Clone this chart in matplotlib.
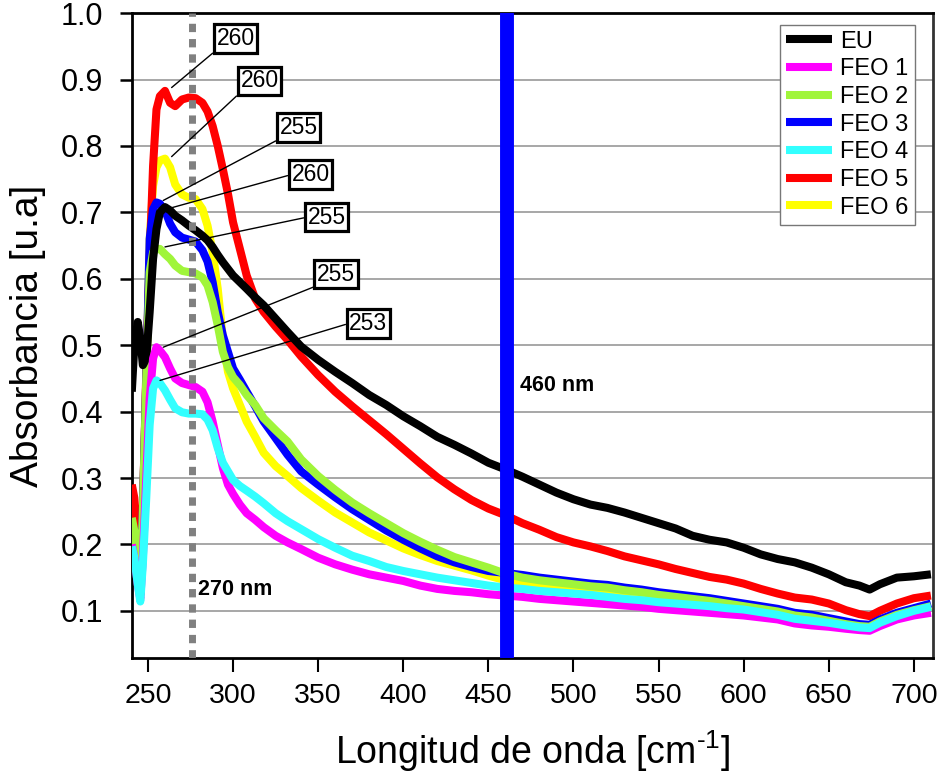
import matplotlib
matplotlib.use("Agg")
import matplotlib.pyplot as plt

plt.rcParams['font.family'] = ['Liberation Sans', 'DejaVu Sans']
plt.rcParams['mathtext.fontset'] = 'custom'
plt.rcParams['mathtext.rm'] = 'Liberation Sans'
plt.rcParams['mathtext.it'] = 'Liberation Sans'

# ---------------- data ----------------
wavelength = [240.5, 242, 244, 245.5, 247, 249, 251, 253, 255, 257,
              260, 263, 266, 270, 274, 278, 282, 285, 288, 291,
              294, 297, 300, 304, 308, 313, 318, 325, 332, 340,
              350, 360, 370, 380, 390, 400, 410, 420, 430, 440,
              450, 460, 470, 480, 490, 500, 510, 520, 530, 540,
              550, 560, 570, 580, 590, 600, 610, 620, 630, 640,
              650, 660, 668, 674, 680, 690, 700, 710]

eu = [0.43, 0.50, 0.535, 0.51, 0.47, 0.48, 0.55, 0.63, 0.675, 0.70,
      0.708, 0.703, 0.695, 0.688, 0.68, 0.673, 0.665, 0.658, 0.648, 0.636,
      0.625, 0.615, 0.605, 0.595, 0.585, 0.572, 0.56, 0.54, 0.52, 0.498,
      0.478, 0.46, 0.443, 0.425, 0.41, 0.393, 0.378, 0.362, 0.35, 0.337,
      0.323, 0.313, 0.302, 0.29, 0.278, 0.268, 0.26, 0.255, 0.248, 0.24,
      0.232, 0.224, 0.213, 0.207, 0.203, 0.195, 0.185, 0.178, 0.173, 0.165,
      0.155, 0.143, 0.138, 0.132, 0.14, 0.15, 0.152, 0.155]

feo1 = [0.20, 0.18, 0.14, 0.118, 0.18, 0.30, 0.42, 0.48, 0.497, 0.492,
        0.482, 0.465, 0.45, 0.443, 0.44, 0.437, 0.43, 0.414, 0.385, 0.35,
        0.315, 0.29, 0.276, 0.26, 0.247, 0.237, 0.226, 0.213, 0.203, 0.193,
        0.18, 0.17, 0.162, 0.155, 0.15, 0.145, 0.138, 0.133, 0.13, 0.128,
        0.125, 0.123, 0.121, 0.118, 0.116, 0.114, 0.112, 0.11, 0.108, 0.106,
        0.103, 0.101, 0.099, 0.097, 0.095, 0.093, 0.09, 0.087, 0.081, 0.078,
        0.076, 0.073, 0.071, 0.07, 0.077, 0.087, 0.093, 0.097]

feo2 = [0.24, 0.22, 0.17, 0.125, 0.25, 0.45, 0.61, 0.64, 0.645, 0.645,
        0.637, 0.63, 0.62, 0.612, 0.61, 0.608, 0.602, 0.59, 0.565, 0.53,
        0.49, 0.467, 0.452, 0.44, 0.425, 0.41, 0.39, 0.372, 0.355, 0.328,
        0.303, 0.282, 0.263, 0.247, 0.232, 0.217, 0.204, 0.192, 0.181, 0.173,
        0.165, 0.156, 0.15, 0.146, 0.143, 0.14, 0.137, 0.135, 0.131, 0.128,
        0.124, 0.121, 0.118, 0.115, 0.111, 0.107, 0.103, 0.099, 0.093, 0.09,
        0.085, 0.08, 0.077, 0.076, 0.084, 0.094, 0.101, 0.107]

feo3 = [0.21, 0.20, 0.16, 0.125, 0.25, 0.45, 0.66, 0.705, 0.715, 0.713,
        0.703, 0.683, 0.67, 0.662, 0.659, 0.656, 0.643, 0.626, 0.595, 0.55,
        0.515, 0.49, 0.465, 0.448, 0.43, 0.408, 0.385, 0.36, 0.335, 0.31,
        0.29, 0.271, 0.253, 0.237, 0.221, 0.207, 0.194, 0.182, 0.173, 0.166,
        0.16, 0.157, 0.154, 0.15, 0.147, 0.144, 0.141, 0.139, 0.135, 0.132,
        0.128, 0.125, 0.122, 0.119, 0.115, 0.111, 0.107, 0.103, 0.097, 0.094,
        0.089, 0.084, 0.08, 0.079, 0.087, 0.097, 0.104, 0.111]

feo4 = [0.197, 0.18, 0.14, 0.114, 0.17, 0.27, 0.38, 0.435, 0.447, 0.443,
        0.432, 0.418, 0.405, 0.399, 0.397, 0.397, 0.396, 0.388, 0.372, 0.345,
        0.323, 0.31, 0.297, 0.288, 0.281, 0.272, 0.262, 0.247, 0.235, 0.223,
        0.208, 0.195, 0.183, 0.175, 0.166, 0.16, 0.155, 0.15, 0.146, 0.142,
        0.138, 0.135, 0.133, 0.13, 0.128, 0.126, 0.124, 0.121, 0.118, 0.116,
        0.113, 0.111, 0.109, 0.107, 0.104, 0.102, 0.098, 0.094, 0.088, 0.085,
        0.082, 0.078, 0.075, 0.074, 0.082, 0.092, 0.10, 0.106]

feo5 = [0.29, 0.27, 0.20, 0.14, 0.25, 0.46, 0.63, 0.77, 0.855, 0.875,
        0.883, 0.865, 0.86, 0.87, 0.873, 0.872, 0.865, 0.852, 0.83, 0.80,
        0.765, 0.728, 0.685, 0.645, 0.605, 0.57, 0.55, 0.528, 0.508, 0.483,
        0.455, 0.43, 0.408, 0.387, 0.366, 0.344, 0.322, 0.301, 0.283, 0.267,
        0.254, 0.244, 0.232, 0.222, 0.211, 0.203, 0.197, 0.19, 0.182, 0.176,
        0.17, 0.163, 0.157, 0.151, 0.147, 0.141, 0.133, 0.126, 0.12, 0.117,
        0.111, 0.101, 0.095, 0.092, 0.10, 0.111, 0.119, 0.123]

feo6 = [0.25, 0.23, 0.17, 0.13, 0.25, 0.45, 0.66, 0.74, 0.768, 0.778,
        0.781, 0.768, 0.742, 0.727, 0.722, 0.72, 0.705, 0.68, 0.64, 0.585,
        0.51, 0.46, 0.435, 0.41, 0.385, 0.362, 0.338, 0.318, 0.303, 0.285,
        0.266, 0.248, 0.233, 0.218, 0.206, 0.194, 0.184, 0.175, 0.168, 0.161,
        0.153, 0.146, 0.142, 0.138, 0.135, 0.132, 0.13, 0.128, 0.125, 0.122,
        0.119, 0.116, 0.113, 0.11, 0.107, 0.104, 0.10, 0.096, 0.09, 0.087,
        0.083, 0.079, 0.076, 0.075, 0.083, 0.093, 0.10, 0.106]

series_names = ['EU', 'FEO 1', 'FEO 2', 'FEO 3', 'FEO 4', 'FEO 5', 'FEO 6']
series_values = [eu, feo1, feo2, feo3, feo4, feo5, feo6]

peak_labels = ['260', '260', '255', '260', '255', '255', '253']
marker_lines = [276, 461]
marker_texts = ['270 nm', '460 nm']

xticks = [250, 300, 350, 400, 450, 500, 550, 600, 650, 700]
yticks = [0.1, 0.2, 0.3, 0.4, 0.5, 0.6, 0.7, 0.8, 0.9, 1.0]

# ---------------- styles ----------------
colors = {'EU': '#000000', 'FEO 1': '#FF00FF', 'FEO 2': '#A0F53A',
          'FEO 3': '#0000FF', 'FEO 4': '#33FFFF', 'FEO 5': '#FF0000',
          'FEO 6': '#FFFF00'}
zorders = {'FEO 6': 2, 'FEO 5': 3, 'FEO 3': 4, 'FEO 2': 5, 'EU': 6,
           'FEO 1': 7, 'FEO 4': 8}

fig = plt.figure(figsize=(9.46, 7.75), dpi=100)
ax = fig.add_axes([0.1395, 0.151, 0.8467, 0.832])

handles = {}
for name, vals in zip(series_names, series_values):
    ln, = ax.plot(wavelength, vals, color=colors[name], lw=5.8,
                  solid_joinstyle='round', solid_capstyle='butt',
                  zorder=zorders[name], label=name)
    handles[name] = ln

# vertical markers
ax.axvline(marker_lines[0], color='#808080', lw=5, linestyle=(0, (1.2, 1.0)),
           dash_capstyle='butt', zorder=10)
ax.axvline(marker_lines[1], color='#0000FF', lw=10, zorder=10)
ax.text(279.5, 0.132, marker_texts[0], fontsize=15.5, fontweight='bold',
        ha='left', va='center', zorder=11)
ax.text(468.5, 0.44, marker_texts[1], fontsize=15.5, fontweight='bold',
        ha='left', va='center', zorder=11)

# annotations: (target xy, box center, relpos)
ann_pos = [((263.9, 0.888), (301.5, 0.962), (0, 0)),
           ((263.9, 0.784), (315.5, 0.898), (0, 0)),
           ((259.0, 0.718), (338.5, 0.828), (0, 0)),
           ((263.9, 0.707), (345.5, 0.757), (0, 0.5)),
           ((260.0, 0.648), (355.0, 0.693), (0, 0.5)),
           ((259.0, 0.497), (360.5, 0.607), (0, 0)),
           ((257.1, 0.447), (379.5, 0.533), (0, 0.5))]
for lab, (xy, xyt, rp) in zip(peak_labels, ann_pos):
    ax.annotate(lab, xy=xy, xytext=xyt, textcoords='data', fontsize=16.5,
                ha='center', va='center', zorder=12,
                bbox=dict(boxstyle='square,pad=0.12', fc='white', ec='black', lw=2.3),
                arrowprops=dict(arrowstyle='-', color='black', lw=1.0,
                                relpos=rp, shrinkA=0, shrinkB=0))

ax.set_xlim(240.6, 711.2)
ax.set_ylim(0.029, 1.0)
ax.set_xticks(xticks)
ax.set_yticks(yticks)
ax.set_yticklabels([f'{v:.1f}' for v in yticks])
ax.yaxis.grid(True, color='#a0a0a0', lw=1.3, zorder=0)
ax.set_axisbelow(True)

ax.tick_params(axis='y', which='major', direction='out', length=9,
               width=1.8, labelsize=22, pad=12)
ax.tick_params(axis='x', which='major', direction='out', length=10,
               width=1.5, labelsize=20.5, pad=8)

for s in ['left', 'bottom', 'top']:
    ax.spines[s].set_color('black')
    ax.spines[s].set_linewidth(2)
ax.spines['right'].set_color('#333333')
ax.spines['right'].set_linewidth(2)

ax.set_xlabel('Longitud de onda [cm$^{\u20101}$]', fontsize=27, labelpad=14)
ax.set_ylabel('Absorbancia [u.a]', fontsize=28, labelpad=10)

leg = ax.legend([handles[n] for n in series_names], series_names,
                loc='upper right', bbox_to_anchor=(0.977, 0.982),
                borderaxespad=0, fontsize=17, handlelength=1.95,
                handletextpad=0.35, labelspacing=0.24, borderpad=0.25,
                fancybox=False, framealpha=1, edgecolor='#777777')
leg.get_frame().set_linewidth(1.0)
leg.set_zorder(20)

fig.savefig('out.png', dpi=100)
